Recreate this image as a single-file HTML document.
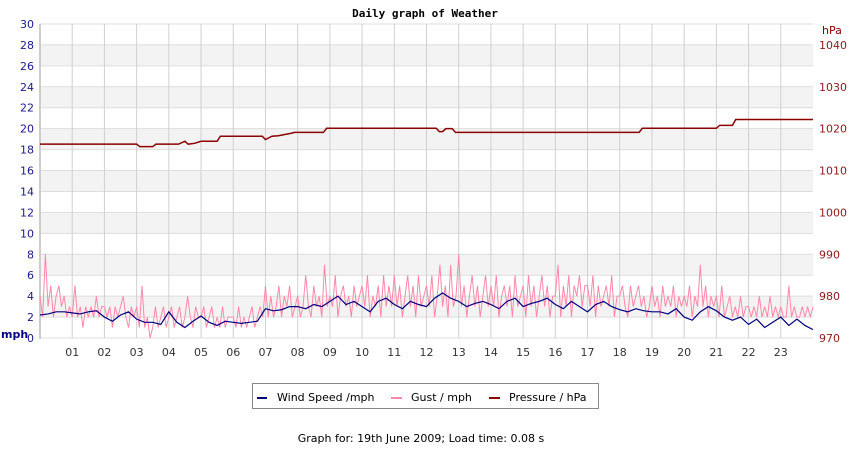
<!DOCTYPE html>
<html><head><meta charset="utf-8"><style>
body{margin:0;background:#fff;width:850px;height:450px;overflow:hidden}
svg text{font-family:"DejaVu Sans","Liberation Sans",sans-serif}
</style></head><body>
<svg id="chart" width="850" height="450" xmlns="http://www.w3.org/2000/svg">
<text x="425" y="17" text-anchor="middle" font-size="11" font-weight="bold" style="font-family:'DejaVu Sans Mono','Liberation Mono',monospace">Daily graph of Weather</text>
<g id="bands"></g><g id="grid"></g><g id="axes"></g>
<g id="series"></g>
<text x="1" y="338" font-size="11" font-weight="bold" fill="#000080">mph</text>
<text x="822" y="34" font-size="11" fill="#8b0000">hPa</text>
<g>
<rect x="252.5" y="383.5" width="346" height="25" fill="#fff" stroke="#888"/>
<rect x="257" y="397" width="10" height="2" fill="#000080"/>
<text x="277" y="401" font-size="11">Wind Speed /mph</text>
<rect x="391" y="397" width="11" height="2" fill="#ff88aa"/>
<text x="411" y="401" font-size="11">Gust / mph</text>
<rect x="489" y="397" width="11" height="2" fill="#8b0000"/>
<text x="509" y="401" font-size="11">Pressure / hPa</text>
</g>
<text x="421" y="442" text-anchor="middle" font-size="11">Graph for: 19th June 2009; Load time: 0.08 s</text>
</svg>
<script>
const gust=[
4,2,8,3,5,2,4,5,3,4,2,3,
2,5,2,3,1,3,2,3,2,4,2,3,
3,2,3,1,3,2,3,4,2,1,3,2,
3,1,5,1,2,0,1,3,1,2,3,1,
2,3,1,2,3,1,2,4,2,1,3,2,
2,3,1,2,3,1,2,1,3,1,2,2,
2,1,3,1,2,1,2,3,1,2,3,2,
5,2,4,2,3,5,2,4,3,5,2,3,
4,2,3,6,3,2,5,3,4,2,7,3,
4,3,6,2,4,5,3,4,2,5,3,4,
5,3,6,2,4,3,5,2,6,3,5,3,
6,3,5,2,4,6,3,5,2,6,3,4,
5,3,6,2,4,7,3,5,2,7,3,4,
8,3,5,2,4,6,3,5,2,4,6,3,
5,3,6,2,4,5,3,5,2,6,3,4,
5,2,6,3,5,2,4,6,3,5,2,4,
4,7,2,5,3,6,2,5,4,6,3,5,
5,3,6,2,5,3,4,5,3,6,2,4,
4,5,3,2,5,3,4,5,3,4,2,3,
5,3,4,2,5,3,4,3,5,2,4,3,
4,3,5,2,4,3,7,3,5,2,4,3,
4,2,5,2,3,4,2,3,2,4,2,3,
3,2,3,2,4,2,3,2,4,2,3,2,
3,2,2,5,2,3,2,2,3,2,3,2,3];
const wind=[2.2,2.3,2.5,2.5, 2.4,2.3,2.5,2.6, 2.0,1.6,2.2,2.5, 1.8,1.5,1.5,1.3, 2.5,1.5,1.0,1.6, 2.1,1.5,1.2,1.6, 1.5,1.4,1.5,1.6, 2.8,2.6,2.7,3.0, 3.0,2.8,3.2,3.0, 3.5,4.0,3.2,3.5, 3.0,2.5,3.5,3.8, 3.2,2.8,3.5,3.2, 3.0,3.8,4.3,3.8, 3.5,3.0,3.3,3.5, 3.2,2.8,3.5,3.8, 3.0,3.3,3.5,3.8, 3.2,2.8,3.5,3.0, 2.5,3.2,3.5,3.0, 2.7,2.5,2.8,2.6, 2.5,2.5,2.3,2.8, 2.0,1.7,2.5,3.0, 2.6,2.0,1.7,2.0, 1.3,1.8,1.0,1.5, 2.0,1.2,1.8,1.2,0.8];
const presTimes=[0,3.0,3.1,3.5,3.6,4.3,4.5,4.6,4.8,5.0,5.5,5.6,6.9,7.0,7.2,7.4,7.8,7.9,8.8,8.9,12.3,12.4,12.5,12.6,12.8,12.9,18.6,18.7,21.0,21.1,21.5,21.6,24];
const presValues=[1016.3,1016.3,1015.7,1015.7,1016.3,1016.3,1017,1016.3,1016.5,1017,1017,1018.2,1018.2,1017.4,1018.2,1018.3,1018.9,1019.1,1019.1,1020.1,1020.1,1019.3,1019.3,1020,1020,1019.1,1019.1,1020.1,1020.1,1020.8,1020.8,1022.2,1022.2];
const leftTicks=[0,2,4,6,8,10,12,14,16,18,20,22,24,26,28,30];
const rightTicks=[970,980,990,1000,1010,1020,1030,1040];
const hourLabels=["01","02","03","04","05","06","07","08","09","10","11","12","13","14","15","16","17","18","19","20","21","22","23"];
const X0=40,X1=813,Y0=338,Y1=24;
const x=h=>X0+h/24*(X1-X0);
const yL=v=>Y0-v/30*(Y0-Y1);
const yR=p=>Y0-(p-970)/75*(Y0-Y1);
const NS="http://www.w3.org/2000/svg";
function mk(tag,parent,attrs){const e=document.createElementNS(NS,tag);for(const k in attrs)e.setAttribute(k,attrs[k]);document.getElementById(parent).appendChild(e);return e;}
for(let i=0;i<leftTicks.length-1;i++){const v=leftTicks[i];if(v%4===2){const r=mk('rect','bands',{x:X0,y:yL(v+2),width:X1-X0,height:yL(v)-yL(v+2),fill:'#f3f3f3'});

}}
leftTicks.forEach(v=>{const l=mk('line','grid',{x1:X0,x2:X1,y1:yL(v),y2:yL(v),stroke:'#ddd'});


const t=mk('text','axes',{x:34,y:yL(v)+4,'text-anchor':'end','font-size':'11',fill:'#1a1a8c'});t.textContent=v;

});
rightTicks.forEach(p=>{const t=mk('text','axes',{x:819,y:yR(p)+4,'font-size':'11',fill:'#8b1a1a'});t.textContent=p;

});
hourLabels.forEach((s,i)=>{const h=i+1;const l=mk('line','grid',{x1:x(h),x2:x(h),y1:Y1,y2:Y0,stroke:'#d0d0d0'});


const t=mk('text','axes',{x:x(h),y:356,'text-anchor':'middle','font-size':'11',fill:'#333'});t.textContent=s;

});
const ax=mk('line','axes',{x1:X0,x2:X0,y1:Y1,y2:Y0+1,stroke:'#ccc','stroke-width':2});


const gp=mk('polyline','series',{fill:'none',stroke:'#ff88aa','stroke-width':1,points:gust.map((v,i)=>x(i*24/(gust.length-1))+','+yL(v)).join(' ')});


const wp=mk('polyline','series',{fill:'none',stroke:'#000080','stroke-width':1.2,points:wind.map((v,i)=>x(i*24/(wind.length-1))+','+yL(v)).join(' ')});


const pp=mk('polyline','series',{fill:'none',stroke:'#8b0000','stroke-width':1.5,points:presTimes.map((t,i)=>x(t)+','+yR(presValues[i])).join(' ')});


</script>
</body></html>
